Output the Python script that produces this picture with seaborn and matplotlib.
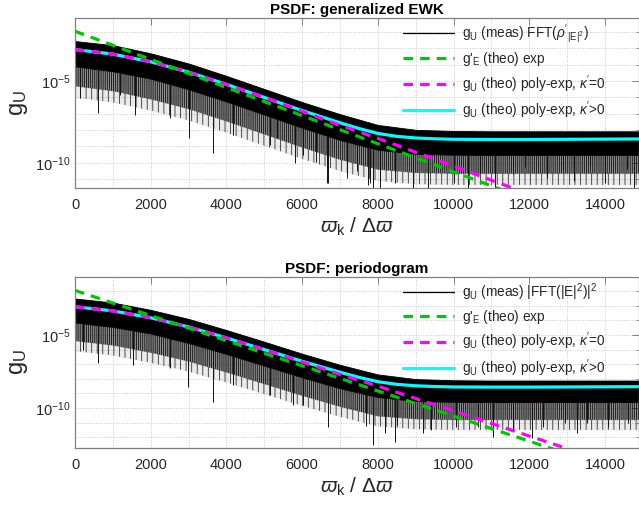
import numpy as np
import matplotlib
matplotlib.use('Agg')
import matplotlib.pyplot as plt
import seaborn as sns
from matplotlib.lines import Line2D
from matplotlib.ticker import LogLocator, MultipleLocator, NullFormatter, FixedLocator

sns.set_style('white')
plt.rcParams['font.family'] = ['Liberation Sans', 'DejaVu Sans']
plt.rcParams['mathtext.fontset'] = 'custom'
plt.rcParams['mathtext.rm'] = 'Liberation Sans'
plt.rcParams['mathtext.it'] = 'Liberation Sans:italic'
plt.rcParams['mathtext.bf'] = 'Liberation Sans:bold'
plt.rcParams['hatch.linewidth'] = 0.6

# ---------------- data (log10 values) ----------------
x_theo = [0, 1000, 2000, 3000, 4000, 5000, 6000, 7000, 8000, 9000, 10000,
          11000, 12000, 13000, 14000, 15000]
g_exp_log = [-1.95, -2.81, -3.67, -4.53, -5.39, -6.25, -7.11, -7.97, -8.83,
             -9.69, -10.55, -11.41, -12.27, -13.13, -13.99, -14.85]
g_poly0_log = [-3.07, -3.35, -3.82, -4.45, -5.20, -6.00, -6.85, -7.70, -8.50,
               -9.35, -10.20, -11.06, -11.92, -12.78, -13.64, -14.50]

x_cyan = [0, 1000, 2000, 3000, 4000, 5000, 6000, 7000, 7500, 8000, 8500, 9000,
          9500, 10000, 11000, 12000, 13000, 14000, 15000]
g_polyk_log = [-3.07, -3.35, -3.82, -4.45, -5.20, -6.00, -6.80, -7.55, -7.90,
               -8.20, -8.38, -8.48, -8.53, -8.56, -8.57, -8.57, -8.56, -8.55, -8.54]

# measured spectrum: band envelope
# (top of hairs / solid core / dense spike fringe / sparse spike tail)
x_meas = [0, 1000, 2000, 3000, 4000, 5000, 6000, 7000, 8000, 9000, 10000,
          11000, 12000, 13000, 14000, 15000]
meas_hi_top = [-2.55, -2.80, -3.30, -3.92, -4.68, -5.48, -6.28, -7.02, -7.68,
               -7.98, -8.05, -8.07, -8.07, -8.07, -8.07, -8.07]
meas_core_top = [-4.10, -4.40, -4.85, -5.50, -6.25, -7.05, -7.85, -8.60, -9.20,
                 -9.45, -9.50, -9.52, -9.52, -9.52, -9.52, -9.52]
meas_fringe_top = [-5.30, -5.60, -6.10, -6.70, -7.45, -8.25, -9.05, -9.80, -10.40,
                   -10.60, -10.65, -10.65, -10.65, -10.65, -10.65, -10.65]
meas_tail_top = [-6.00, -6.30, -6.80, -7.40, -8.15, -8.95, -9.75, -10.50, -11.10,
                 -11.30, -11.35, -11.35, -11.35, -11.35, -11.35, -11.35]
meas_hi_bot = [-2.50, -2.78, -3.28, -3.90, -4.66, -5.46, -6.28, -7.04, -7.70,
               -8.02, -8.10, -8.12, -8.12, -8.12, -8.12, -8.12]
meas_core_bot = [-4.15, -4.45, -4.90, -5.55, -6.30, -7.10, -7.90, -8.65, -9.25,
                 -9.52, -9.58, -9.60, -9.60, -9.60, -9.60, -9.60]
meas_fringe_bot = [-5.40, -5.70, -6.20, -6.80, -7.55, -8.35, -9.15, -9.90, -10.55,
                   -10.75, -10.80, -10.80, -10.80, -10.80, -10.80, -10.80]
meas_tail_bot = [-6.10, -6.40, -6.90, -7.50, -8.25, -9.05, -9.85, -10.60, -11.25,
                 -11.45, -11.50, -11.50, -11.50, -11.50, -11.50, -11.50]

# deep downward spikes of the measured spectrum
spike_x_top = [130, 620, 1190, 1590, 2510, 3000, 3650, 4180, 5150, 5330, 5810,
               6030, 6380, 6650, 6690, 7180, 7440, 7750, 7790, 7880, 8050, 8450,
               8940, 9335, 10000, 10390, 10700, 11100, 11580, 11900, 12460,
               12900, 13170, 13600, 14000, 14580, 14760]
spike_log_top = [-6.06, -6.97, -5.85, -7.07, -7.28, -8.50, -9.41, -8.29, -8.90,
                 -8.50, -10.02, -9.51, -9.92, -11.24, -11.24, -10.93, -10.53,
                 -11.34, -11.24, -11.6, -11.6, -11.24, -11.6, -11.6, -11.24,
                 -11.6, -10.63, -11.6, -10.70, -10.23, -10.90, -10.40, -11.10,
                 -10.20, -11.24, -10.40, -11.6]
spike_x_bot = [220, 616, 1540, 2510, 2995, 3655, 4180, 5150, 5770, 6030, 6690,
               7700, 7880, 8190, 8450, 8500, 9200, 9410, 10070, 10640, 11040,
               11570, 12065, 12370, 12940, 13250, 13520, 14090, 14620]
spike_log_bot = [-6.03, -6.94, -7.05, -7.28, -8.54, -9.57, -8.40, -9.10, -9.80,
                 -9.80, -11.28, -11.20, -12.53, -11.73, -12.30, -11.16, -11.73,
                 -11.50, -11.28, -11.28, -11.96, -11.50, -12.08, -11.28, -11.05,
                 -11.73, -11.05, -11.28, -11.05]

x_ticks = [0, 2000, 4000, 6000, 8000, 10000, 12000, 14000]

panels = [
    dict(title='PSDF: generalized EWK',
         meas_label=r"g$_{\mathrm{U}}$ (meas) FFT($\rho'_{|\mathrm{E}|^2}$)",
         hi=meas_hi_top, core=meas_core_top, fringe=meas_fringe_top,
         tail=meas_tail_top, sx=spike_x_top, sl=spike_log_top,
         ylim=(-11.54, -1.14), rect=(75, 18, 639, 188)),
    dict(title='PSDF: periodogram',
         meas_label=r"g$_{\mathrm{U}}$ (meas) |FFT(|E|$^2$)|$^2$",
         hi=meas_hi_bot, core=meas_core_bot, fringe=meas_fringe_bot,
         tail=meas_tail_bot, sx=spike_x_bot, sl=spike_log_bot,
         ylim=(-12.74, -1.03), rect=(75, 277, 639, 448)),
]

W, H = 639, 508
fig = plt.figure(figsize=(W / 100, H / 100), dpi=100)

GREEN = '#00c800'
MAGENTA = '#ff00ff'
CYAN = '#00ffff'
FRAME = '#808080'
TXT = '#262626'

for p in panels:
    l, t, r, b = p['rect']
    ax = fig.add_axes([l / W, 1 - b / H, (r - l) / W, (b - t) / H])
    ax.set_yscale('log')

    xm = np.array(x_meas)
    hi = 10.0 ** np.array(p['hi'])
    core = 10.0 ** np.array(p['core'])
    fringe = 10.0 ** np.array(p['fringe'])
    tail = 10.0 ** np.array(p['tail'])
    # sparse spike tail
    ax.fill_between(xm, tail, fringe, facecolor='black', alpha=0.08, lw=0,
                    zorder=2)
    ax.fill_between(xm, tail, fringe, facecolor='none', edgecolor='#333333',
                    hatch='|||', lw=0, zorder=2)
    # dense forest of downward spikes
    ax.fill_between(xm, fringe, core, facecolor='black', alpha=0.45, lw=0,
                    zorder=2)
    ax.fill_between(xm, fringe, core, facecolor='none', edgecolor='#111111',
                    hatch='||||||||', lw=0, zorder=2)
    # solid core
    ax.fill_between(xm, core, hi, color='black', lw=0.6, zorder=2)
    sx = np.array(p['sx'])
    ax.vlines(sx, 10.0 ** np.array(p['sl']),
              10.0 ** np.interp(sx, xm, np.array(p['core'])),
              color='#111111', lw=0.7, zorder=2)

    sns.lineplot(x=x_cyan, y=10.0 ** np.array(g_polyk_log), ax=ax, color=CYAN,
                 lw=2.3, sort=False, zorder=3)
    sns.lineplot(x=x_theo, y=10.0 ** np.array(g_poly0_log), ax=ax, color=MAGENTA,
                 lw=2.3, sort=False, zorder=4)
    ax.lines[-1].set_dashes((3.0, 2.2))
    sns.lineplot(x=x_theo, y=10.0 ** np.array(g_exp_log), ax=ax, color=GREEN,
                 lw=2.3, sort=False, zorder=5)
    ax.lines[-1].set_dashes((3.0, 2.2))

    ax.set_xlim(0, 14900)
    ax.set_ylim(10.0 ** p['ylim'][0], 10.0 ** p['ylim'][1])

    ax.xaxis.set_major_locator(FixedLocator(x_ticks))
    ax.xaxis.set_minor_locator(MultipleLocator(1000))
    ax.yaxis.set_major_locator(FixedLocator([1e-10, 1e-5]))
    ax.yaxis.set_minor_locator(LogLocator(base=10, subs=(1.0,), numticks=30))
    ax.yaxis.set_minor_formatter(NullFormatter())
    ax.set_yticklabels([r'$10^{-10}$', r'$10^{-5}$'])

    ax.grid(True, which='both', color='#c8c8c8', ls=':', lw=0.7)
    ax.set_axisbelow(True)
    for sp in ax.spines.values():
        sp.set_color(FRAME)
        sp.set_linewidth(0.9)
        sp.set_zorder(6)
    ax.tick_params(which='major', direction='in', length=5, width=0.7,
                   color=FRAME, top=True, right=True, labelsize=10.5,
                   labelcolor=TXT)
    ax.tick_params(axis='x', which='major', pad=7)
    ax.tick_params(axis='y', which='major', pad=3)
    ax.tick_params(axis='y', which='minor', direction='in', length=2.5,
                   width=0.6, color=FRAME, right=True)
    ax.tick_params(axis='x', which='minor', length=0)

    ax.set_title(p['title'], fontsize=11, fontweight='bold', color='black', pad=3)
    ax.set_xlabel(r'$\varpi_{\mathrm{k}}$ / $\Delta\varpi$', fontsize=15, color=TXT)
    ax.xaxis.set_label_coords(0.5, -0.16)
    ax.set_ylabel(r'g$_{\mathrm{U}}$', fontsize=17, color=TXT)
    ax.yaxis.set_label_coords(-0.08, 0.5)

    handles = [
        Line2D([], [], color='black', lw=0.9),
        Line2D([], [], color=GREEN, lw=2.3, dashes=(3.0, 2.2)),
        Line2D([], [], color=MAGENTA, lw=2.3, dashes=(3.0, 2.2)),
        Line2D([], [], color=CYAN, lw=2.3),
    ]
    labels = [
        p['meas_label'],
        r"g$'_{\mathrm{E}}$ (theo) exp",
        r"g$_{\mathrm{U}}$ (theo) poly-exp, $\kappa'$=0",
        r"g$_{\mathrm{U}}$ (theo) poly-exp, $\kappa'$>0",
    ]
    leg = ax.legend(handles, labels, loc='upper left', bbox_to_anchor=(0.565, 1.03),
                    frameon=False, fontsize=9.8, handlelength=3.75,
                    handletextpad=0.55, labelspacing=0.36, borderaxespad=0.3)
    leg.set_zorder(10)

fig.savefig('out.png', dpi=100)
